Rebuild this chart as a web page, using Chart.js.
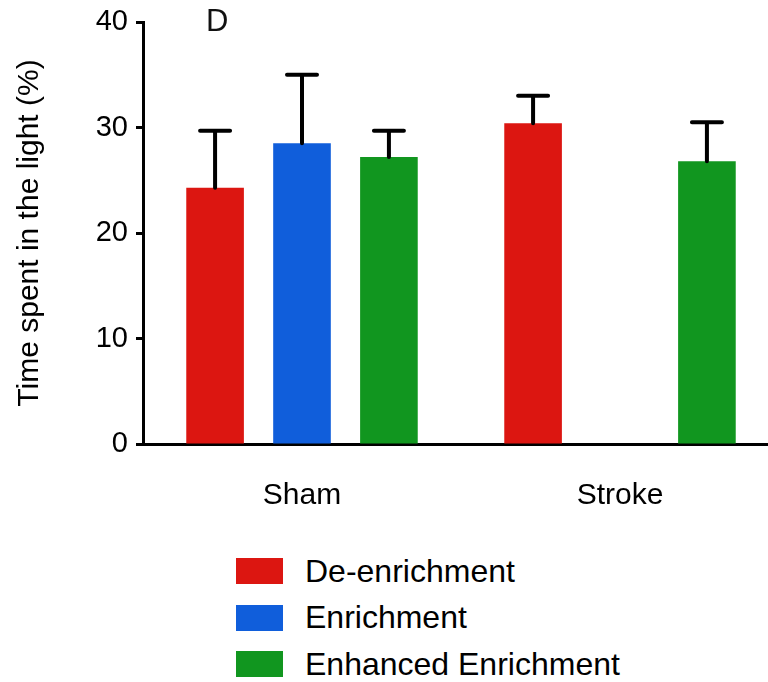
<!DOCTYPE html>
<html>
<head>
<meta charset="utf-8">
<script src="https://cdn.jsdelivr.net/npm/chart.js@4.4.1/dist/chart.umd.min.js"></script>
<style>
  html, body { margin: 0; padding: 0; background: #fff; overflow: hidden; width: 768px; height: 682px; }
  #wrap { position: relative; width: 768px; height: 682px; overflow: hidden; }
  #chart { position: absolute; left: 0; top: 0; }
  #panel { position: absolute; left: 206px; top: 3px; font: 31px "Liberation Sans Narrow", "Liberation Sans", sans-serif; color: #111; }
  #legend { position: absolute; left: 236px; top: 558px; font: 32px "Liberation Sans", Arial, sans-serif; color: #000; }
  .item { display: flex; align-items: center; height: 26px; margin-bottom: 20.5px; }
  .box { width: 47px; height: 26px; margin-right: 22px; }
</style>
</head>
<body>
<div id="wrap">
  <canvas id="chart" width="779" height="540"></canvas>
  <div id="panel">D</div>
  <div id="legend"></div>
</div>
<script>
const categories = ["Sham", "Stroke"];
const seriesNames = ["De-enrichment", "Enrichment", "Enhanced Enrichment"];
const deEnrichment = [24.3, 30.4];
const deEnrichmentErr = [5.4, 2.6];
const enrichment = [28.5, null];
const enrichmentErr = [6.5, null];
const enhanced = [27.2, 26.8];
const enhancedErr = [2.5, 3.7];
const yTicks = [0, 10, 20, 30, 40];

const COLORS = ["rgb(220, 22, 17)", "rgb(16, 94, 219)", "rgb(17, 150, 31)"];
const FONT = "'Liberation Sans', Arial, sans-serif";

// upward error bars with a cap, drawn from each bar's own element
const errorBars = {
  id: "errorBars",
  afterDatasetsDraw(chart) {
    const { ctx } = chart;
    const y = chart.scales.y;
    ctx.save();
    ctx.strokeStyle = "#000";
    ctx.lineWidth = 4;
    ctx.lineCap = "round";
    chart.data.datasets.forEach((ds, di) => {
      const meta = chart.getDatasetMeta(di);
      meta.data.forEach((bar, i) => {
        const v = ds.data[i];
        const e = ds.errors[i];
        if (v == null || e == null) return;
        const top = y.getPixelForValue(v + e);
        ctx.beginPath();
        ctx.moveTo(bar.x, bar.y);
        ctx.lineTo(bar.x, top);
        ctx.moveTo(bar.x - 15, top);
        ctx.lineTo(bar.x + 15, top);
        ctx.stroke();
      });
    });
    ctx.restore();
  },
};

const datasets = [
  { label: seriesNames[0], data: deEnrichment, errors: deEnrichmentErr, backgroundColor: COLORS[0] },
  { label: seriesNames[1], data: enrichment, errors: enrichmentErr, backgroundColor: COLORS[1] },
  { label: seriesNames[2], data: enhanced, errors: enhancedErr, backgroundColor: COLORS[2] },
].map((d) => ({ ...d, barPercentage: 0.663, categoryPercentage: 0.82, borderWidth: 0 }));

new Chart(document.getElementById("chart"), {
  type: "bar",
  data: { labels: categories, datasets },
  options: {
    responsive: false,
    animation: false,
    layout: { padding: { top: 22, left: 0, right: 0, bottom: 0 } },
    plugins: { legend: { display: false }, tooltip: { enabled: false } },
    scales: {
      x: {
        afterFit(scale) { scale.height = 96; },
        grid: { display: false, drawTicks: false },
        border: { display: true, color: "#000", width: 3 },
        ticks: { color: "#000", font: { family: FONT, size: 30 }, padding: 34, maxRotation: 0 },
      },
      y: {
        min: 0,
        max: 40,
        afterFit(scale) {
          scale.width = 143;
          scale.paddingTop = 0;
          scale.paddingBottom = 0;
        },
        afterBuildTicks(scale) { scale.ticks = yTicks.map((v) => ({ value: v })); },
        grid: { drawOnChartArea: false, drawTicks: true, tickLength: 7, tickColor: "#000", tickWidth: 3 },
        border: { display: true, color: "#000", width: 3 },
        ticks: { color: "#000", font: { family: FONT, size: 29 }, padding: 8 },
        title: {
          display: true,
          text: "Time spent in the light (%)",
          color: "#000",
          font: { family: FONT, size: 30 },
          padding: { top: 12 },
        },
      },
    },
  },
  plugins: [errorBars],
});

const legend = document.getElementById("legend");
datasets.forEach((d) => {
  const item = document.createElement("div");
  item.className = "item";
  const box = document.createElement("div");
  box.className = "box";
  box.style.background = d.backgroundColor;
  const txt = document.createElement("span");
  txt.textContent = d.label;
  item.appendChild(box);
  item.appendChild(txt);
  legend.appendChild(item);
});
</script>
</body>
</html>
